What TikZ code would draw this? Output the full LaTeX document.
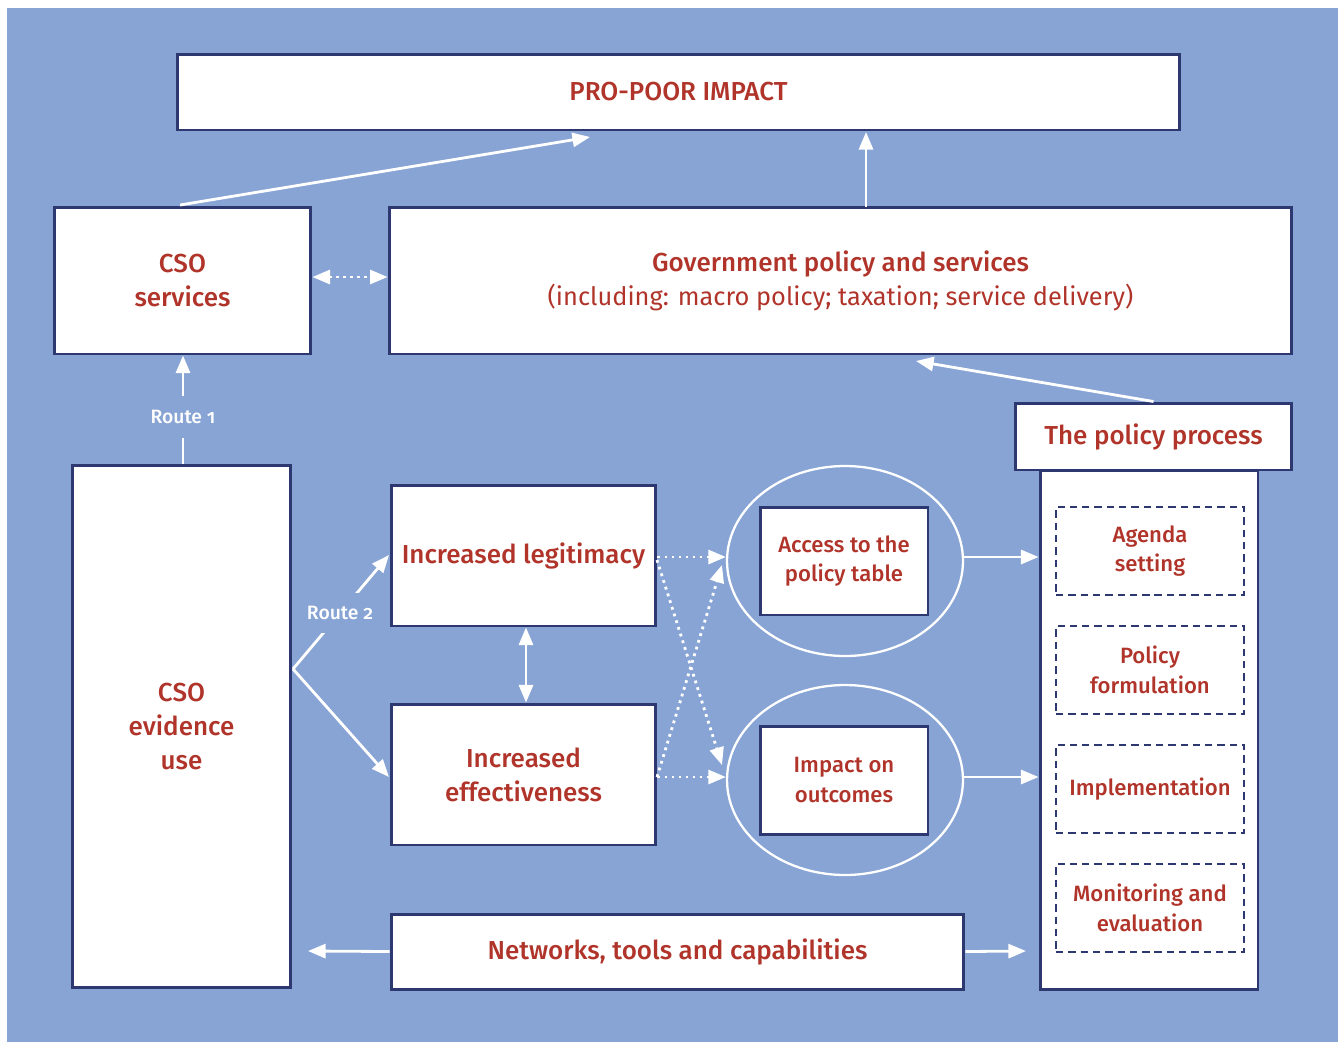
\documentclass[tikz,border=0pt]{standalone}
\usepackage{fontspec}
\setmainfont{Fira Sans}[BoldFont={Fira Sans Medium}]
\usetikzlibrary{arrows.meta,shapes.geometric}
\definecolor{bg}{RGB}{135,164,212}
\definecolor{navy}{RGB}{46,56,112}
\definecolor{txtred}{RGB}{176,52,42}
\begin{document}
\begin{tikzpicture}[x=0.02cm,y=-0.02cm,
  box/.style={draw=navy, line width=1.7pt, fill=white, inner sep=0pt, align=center,
    text=txtred, font=\fontsize{14.8}{19.2}\selectfont\bfseries},
  smallbox/.style={box, font=\fontsize{12.6}{16.8}\selectfont\bfseries},
  dbox/.style={smallbox, line width=1.45pt, dash pattern=on 4.2pt off 2.8pt,
    minimum width=3.76cm, minimum height=1.76cm},
  ring/.style={draw=white, line width=1.3pt, ellipse, minimum width=4.72cm, minimum height=3.8cm, inner sep=0pt},
  tip/.tip={Triangle[length=10pt,width=8pt]},
  wa/.style={draw=white, line width=1.6pt, -tip},
  dots/.style={wa, dash pattern=on 1.6pt off 2.4pt},
  rlabel/.style={fill=bg, text=white, inner sep=1pt, minimum height=0.85cm,
    font=\fontsize{11}{13}\selectfont\bfseries\addfontfeature{Numbers=OldStyle}}
]
\useasboundingbox (0,0) rectangle (1338,1042);
\fill[bg] (7,8) rectangle (1338,1042);

% nodes
\node[box, minimum width=20.06cm, minimum height=1.52cm] (pro) at (678.5,92) {\raisebox{-2.2pt}{PRO-POOR IMPACT}};
\node[box, minimum width=5.14cm, minimum height=2.94cm] (csos) at (182.5,280.5) {CSO\\services};
\node[box, minimum width=18.06cm, minimum height=2.94cm] (gov) at (840.5,280.5)
  {Government policy and services\\\mdseries\fontsize{14.45}{19.2}\selectfont(including: macro policy; taxation; service delivery)};
\node[box, minimum width=4.36cm, minimum height=10.4cm] (ppb) at (1149,730) {};
\node[box, minimum width=5.54cm, minimum height=1.34cm] (pph) at (1153.5,436.5) {\raisebox{-1.5pt}{The policy process}};
\node[dbox] (ag) at (1150,551) {Agenda\\setting};
\node[dbox] (pf) at (1150,670) {Policy\\formulation};
\node[dbox] (im) at (1150,789) {\raisebox{-1.2pt}{Implementation}};
\node[dbox] (me) at (1150,908) {Monitoring and\\evaluation};
\node[box, minimum width=4.38cm, minimum height=10.46cm] (evid) at (181.5,726.5) {CSO\\evidence\\use};
\node[box, minimum width=5.3cm, minimum height=2.82cm] (leg) at (523.5,555.5) {\raisebox{-1.5pt}{Increased legitimacy}};
\node[box, minimum width=5.3cm, minimum height=2.82cm] (eff) at (523.5,774.5) {Increased\\effectiveness};
\node[ring] (ell1) at (845,561) {};
\node[ring] (ell2) at (845,780) {};
\node[smallbox, minimum width=3.36cm, minimum height=2.16cm] (acc) at (844,561) {Access to the\\policy table};
\node[smallbox, minimum width=3.36cm, minimum height=2.16cm] (imp) at (844,780) {Impact on\\outcomes};
\node[box, minimum width=11.46cm, minimum height=1.5cm] (net) at (677.5,951.5) {\raisebox{-1.5pt}{Networks, tools and capabilities}};

% free ends
\coordinate (proA) at (590,137);
\coordinate (csosTop) at (180,205);
\coordinate (govTop) at (866,207);
\coordinate (proB) at (866,132);
\coordinate (govIn) at (916,361);
\coordinate (r2) at (293,669);
\coordinate (legIn) at (389,555);
\coordinate (effIn) at (389,777);
\coordinate (d1s) at (657,560);
\coordinate (d1e) at (722,765);
\coordinate (d2s) at (657,777);
\coordinate (d2e) at (722,565);
\coordinate (netL) at (308,951);
\coordinate (netR) at (1026,951);

% connectors
\draw[wa] (csosTop) -- (proA);
\draw[wa] (govTop) -- (proB);
\draw[dots, tip-tip] (csos.east |- 0,277) -- (gov.west |- 0,277);
\draw[wa] (pph.north) -- (govIn);
\draw[wa] (evid.north -| 183,0) -- (csos.south -| 183,0) node[rlabel, pos=0.43] {Route 1};
\draw[wa] (r2) -- (legIn) node[rlabel, pos=0.49, minimum height=0.8cm] {Route 2};
\draw[wa] (r2) -- (effIn);
\draw[wa, tip-tip] (leg.south -| 526,0) -- (eff.north -| 526,0);
\draw[dots] (leg.east |- 0,557) -- (ell1.west |- 0,557);
\draw[dots] (eff.east |- 0,777) -- (ell2.west |- 0,777);
\draw[dots] (d1s) -- (d1e);
\draw[dots] (d2s) -- (d2e);
\draw[wa] (ell1.east |- 0,557) -- (ppb.west |- 0,557);
\draw[wa] (ell2.east |- 0,777) -- (ppb.west |- 0,777);
\draw[wa] (net.west) -- (netL);
\draw[wa] (net.east) -- (netR);
\end{tikzpicture}
\end{document}
